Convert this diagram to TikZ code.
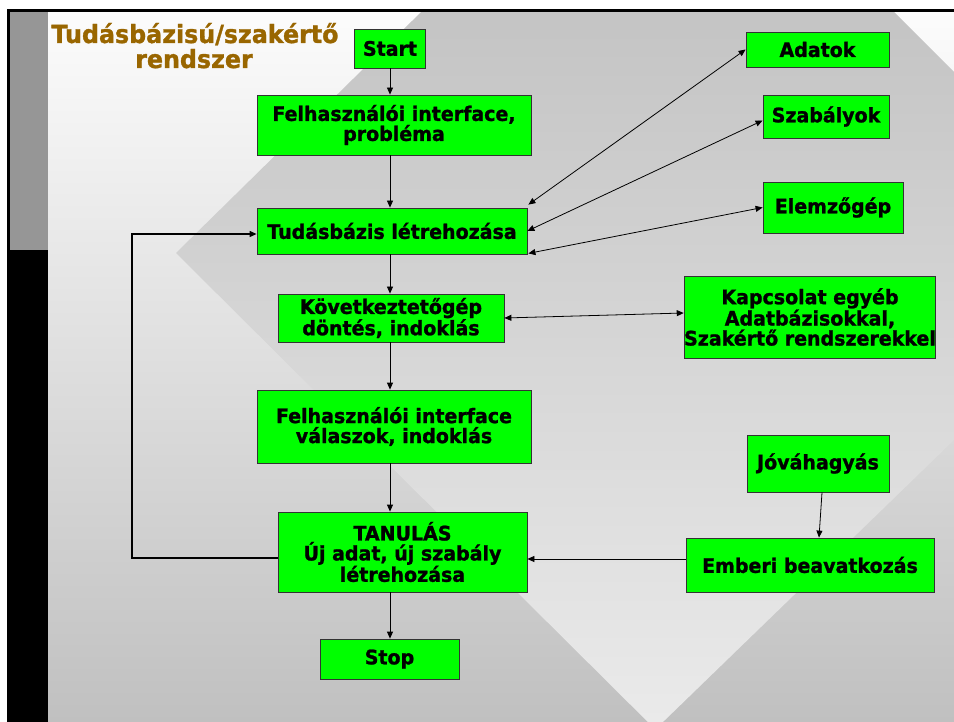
\documentclass[tikz,border=0pt]{standalone}
\usepackage{fontspec}
\setmainfont[BoldFeatures={FakeBold=1.2,FakeStretch=0.95}]{DejaVu Sans}
\usetikzlibrary{arrows.meta,calc}
\definecolor{boxgreen}{RGB}{0,255,0}
\definecolor{titlebrown}{RGB}{153,102,0}
\definecolor{bgtop}{RGB}{252,252,252}
\definecolor{bgbot}{RGB}{192,192,192}
\definecolor{dtop}{RGB}{196,196,196}
\definecolor{dbot}{RGB}{234,234,234}
\definecolor{bargray}{RGB}{150,150,150}
\begin{document}
\begin{tikzpicture}[x=1pt,y=-1pt,
  box/.style={draw=black!80, line width=0.8pt, fill=boxgreen, inner sep=0pt, align=center,
    font=\bfseries\fontsize{20}{20}\selectfont},
  arr/.style={draw=black, line width=0.8pt, -{Triangle[length=7pt,width=6pt]}},
  darr/.style={draw=black, line width=0.8pt, {Triangle[length=7pt,width=6pt]}-{Triangle[length=7pt,width=6pt]}},
  ttl/.style={text=titlebrown, font=\bfseries\fontsize{25}{25}\selectfont, inner sep=0pt}]
\useasboundingbox (0,0) rectangle (954,722);
% background
\fill[white] (0,0) rectangle (954,722);
\shade[top color=bgtop, bottom color=bgbot] (48,10) rectangle (954,722);
\begin{scope}
  \clip (176,253) -- (659.6,-222.4) -- (1140.9,258.9) -- (655.3,729.4) -- cycle;
  \shade[top color=dtop, bottom color=dbot] (48,10) rectangle (954,722);
\end{scope}
% frame
\fill[black] (7,9) rectangle (954,11.7);
\fill[black] (7,10) rectangle (10,250);
\fill[bargray] (10,11.7) rectangle (48,250);
\fill[black] (7,250) rectangle (48,722);
% title
\node[ttl, anchor=base] (title1) at (195,43) {Tudásbázisú/szakértő};
\node[ttl, anchor=base] (title2) at (194,68) {rendszer};
% boxes
\node[box, minimum width=71pt, minimum height=39pt] (start) at (390,48.5) {Start};
\node[box, minimum width=274pt, minimum height=60pt] (felh1) at (394,125) {Felhasználói interface,\\probléma};
\node[box, minimum width=270pt, minimum height=46pt] (tudas) at (392,231) {Tudásbázis létrehozása};
\node[box, minimum width=226pt, minimum height=48pt] (kov) at (391,318) {Következtetőgép\\döntés, indoklás};
\node[box, minimum width=274pt, minimum height=73pt] (felh2) at (394,426.5) {Felhasználói interface\\válaszok, indoklás};
\node[box, minimum width=249pt, minimum height=80pt] (tanulas) at (402.5,552) {TANULÁS\\Új adat, új szabály\\létrehozása};
\node[box, minimum width=139pt, minimum height=40pt] (stop) at (389.5,659) {Stop};
\node[box, minimum width=143pt, minimum height=35pt] (adatok) at (817.5,49.5) {Adatok};
\node[box, minimum width=126pt, minimum height=43pt] (szab) at (826,116.5) {Szabályok};
\node[box, minimum width=140pt, minimum height=51pt] (elemzo) at (833,207.5) {Elemzőgép};
\node[box, minimum width=248pt, minimum height=82pt] (kapcs) at (810,317) {Kapcsolat egyéb\\Adatbázisokkal,\\Szakértő rendszerekkel};
\node[box, minimum width=142pt, minimum height=57pt] (jova) at (818,463.5) {Jóváhagyás};
\node[box, minimum width=248pt, minimum height=54pt] (emberi) at (810,565) {Emberi beavatkozás};
% connectors
\coordinate (col) at (390,0);
\draw[arr] (start.south -| col) -- (felh1.north -| col);
\draw[arr] (felh1.south -| col) -- (tudas.north -| col);
\draw[arr] (tudas.south -| col) -- (kov.north -| col);
\draw[arr] (kov.south -| col) -- (felh2.north -| col);
\draw[arr] (felh2.south -| col) -- (tanulas.north -| col);
\draw[arr] (tanulas.south -| col) -- (stop.north -| col);
\coordinate (loop) at (132,234);
\coordinate (tw) at ($(tanulas.west)+(0,6)$);
\draw[arr, line width=1.1pt] (tw) -| (loop) -- (tudas.west |- loop);
\draw[darr] ($(tudas.north east)+(1,-3)$) -- (adatok.west);
\draw[darr] (tudas.east) -- ($(szab.west)+(0,4)$);
\draw[darr] ($(tudas.south east)+(1,-1)$) -- (elemzo.west);
\draw[darr] (kov.east) -- ($(kapcs.west)+(0,-4)$);
\draw[arr] ($(jova.south)+(4,0)$) -- ($(emberi.north)+(9,0)$);
\coordinate (ew) at ($(emberi.west)+(0,-6)$);
\draw[arr] (ew) -- (ew -| tanulas.east);
\end{tikzpicture}
\end{document}
